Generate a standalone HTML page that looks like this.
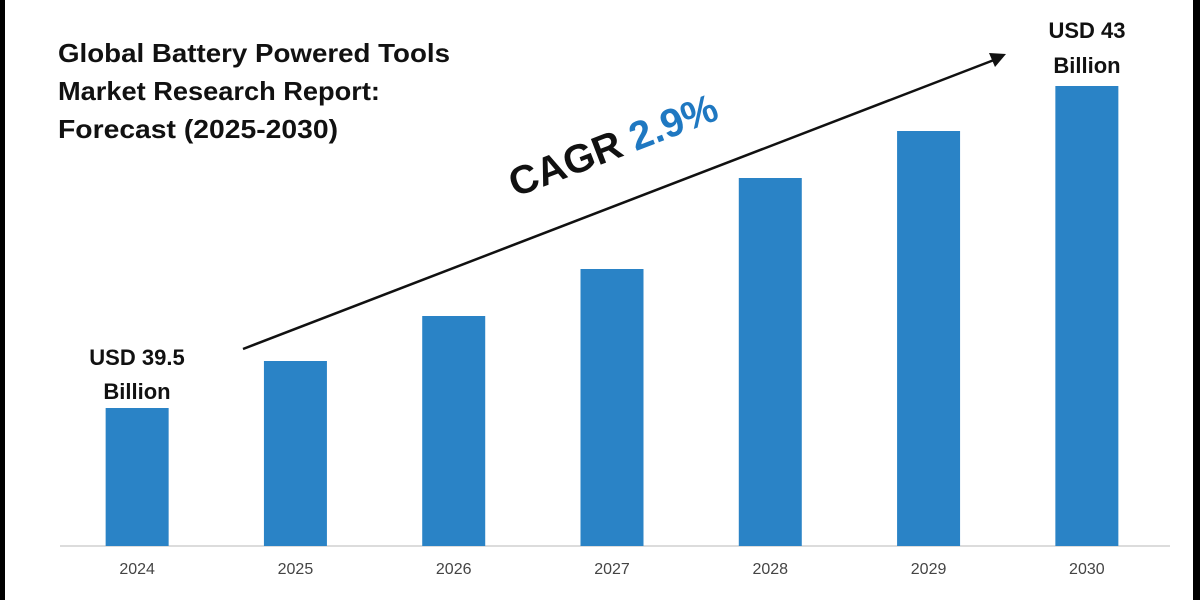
<!DOCTYPE html>
<html><head><meta charset="utf-8"><style>
body{margin:0;background:#fff;}
svg{display:block;font-family:"Liberation Sans",sans-serif;}
</style></head><body>
<svg width="1200" height="600" viewBox="0 0 1200 600">
<rect x="0" y="0" width="1200" height="600" fill="#fff"/>
<rect x="0" y="0" width="5" height="600" fill="#000"/>
<rect x="1193" y="0" width="7" height="600" fill="#000"/>
<g font-weight="bold" font-size="26" fill="#111">
<text x="58" y="62" textLength="392" lengthAdjust="spacingAndGlyphs">Global Battery Powered Tools</text>
<text x="58" y="100" textLength="322" lengthAdjust="spacingAndGlyphs">Market Research Report:</text>
<text x="58" y="138" textLength="280" lengthAdjust="spacingAndGlyphs">Forecast (2025-2030)</text>
</g>
<line x1="60" y1="546" x2="1170" y2="546" stroke="#d0d0d0" stroke-width="1.5"/>
<g id="bars"></g>
<g id="xlabels"></g>
<g>
<line x1="243" y1="349" x2="994" y2="60" stroke="#111" stroke-width="2.5"/>
<polygon points="1006,54 989,53 995,67" fill="#111"/>
</g>
<text transform="translate(618,158) rotate(-21)" text-anchor="middle" font-size="40" font-weight="bold"><tspan fill="#111">CAGR </tspan><tspan fill="#1f78c1">2.9%</tspan></text>
<g font-size="22" font-weight="bold" fill="#111" text-anchor="middle">
<text x="137" y="365">USD 39.5</text><text x="137" y="399">Billion</text>
</g>
<g font-size="22" font-weight="bold" fill="#111" text-anchor="middle">
<text x="1087" y="38">USD 43</text><text x="1087" y="73">Billion</text>
</g>
</svg>
<script>
const categories=["2024","2025","2026","2027","2028","2029","2030"];
const values=[13.8,18.5,23.0,27.7,36.8,41.5,46.0];
const yMax=50;
const plotLeft=58,plotRight=1166,baseY=546,plotH=500,barW=63;
const ns="http://www.w3.org/2000/svg";
function xScale(i){const step=(plotRight-plotLeft)/categories.length;return plotLeft+step*(i+0.5);}
function yScale(v){return baseY-v/yMax*plotH;}
const bg=document.getElementById('bars'),lg=document.getElementById('xlabels');
categories.forEach((c,i)=>{
 const r=document.createElementNS(ns,'rect');
 const cx=xScale(i),y=yScale(values[i]);
 r.setAttribute('x',cx-barW/2);r.setAttribute('y',y);r.setAttribute('width',barW);r.setAttribute('height',baseY-y);
 r.setAttribute('fill','#2a83c6');
 
 
 bg.appendChild(r);
 const t=document.createElementNS(ns,'text');
 t.setAttribute('x',cx);t.setAttribute('y',574);t.setAttribute('text-anchor','middle');
 t.setAttribute('font-size','16');t.setAttribute('fill','#444');
 t.textContent=c;
 
 
 lg.appendChild(t);
});
</script>
</body></html>
